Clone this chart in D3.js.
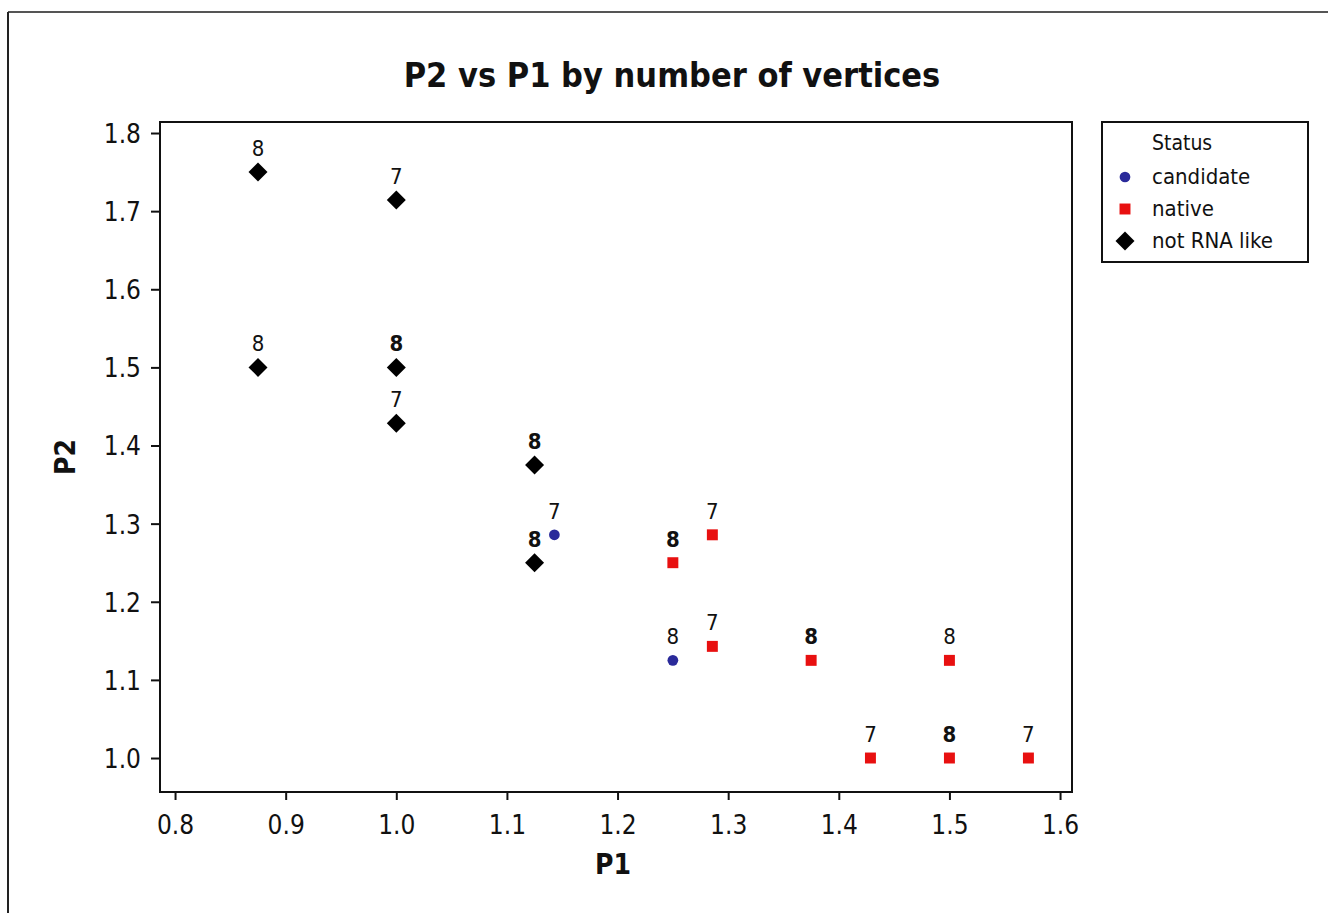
<!DOCTYPE html>
<html>
<head>
<meta charset="utf-8">
<script src="https://cdn.jsdelivr.net/npm/d3@7"></script>
<style>
  html, body { margin: 0; padding: 0; background: #fff; }
  svg { display: block; }
  text { font-family: "DejaVu Sans Condensed", "DejaVu Sans", sans-serif; fill: #111; }
</style>
</head>
<body>
<svg id="chart" width="1328" height="913"></svg>
<script>
// ---- data ----
const statuses = ["candidate", "native", "not RNA like"];
const p1Values = [0.875, 1.0, 0.875, 1.0, 1.0, 1.125, 1.125, 1.1429, 1.25, 1.25, 1.2857, 1.2857, 1.375, 1.5, 1.4286, 1.5, 1.5714];
const p2Values = [1.75, 1.7143, 1.5, 1.5, 1.4286, 1.375, 1.25, 1.2857, 1.125, 1.25, 1.2857, 1.1429, 1.125, 1.125, 1.0, 1.0, 1.0];
const pointStatus = ["not RNA like", "not RNA like", "not RNA like", "not RNA like", "not RNA like", "not RNA like", "not RNA like",
  "candidate", "candidate",
  "native", "native", "native", "native", "native", "native", "native", "native"];
const vertices = [8, 7, 8, 8, 7, 8, 8, 7, 8, 8, 7, 7, 8, 8, 7, 8, 7];
const multiplicity = [1, 1, 1, 2, 1, 2, 2, 1, 1, 2, 1, 1, 2, 1, 1, 2, 1];
const xTicks = [0.8, 0.9, 1.0, 1.1, 1.2, 1.3, 1.4, 1.5, 1.6];
const yTicks = [1.0, 1.1, 1.2, 1.3, 1.4, 1.5, 1.6, 1.7, 1.8];
const titleText = "P2 vs P1 by number of vertices";
const xLabel = "P1", yLabel = "P2", legendTitle = "Status";

// ---- layout ----
const svg = d3.select("#chart");
const plot = { left: 160, right: 1072, top: 122, bottom: 792 };

const x = d3.scaleLinear().domain([0.7864, 1.6108]).range([plot.left, plot.right]);
const y = d3.scaleLinear().domain([0.9565, 1.8141]).range([plot.bottom, plot.top]);

const color = d3.scaleOrdinal().domain(statuses).range(["#2a2a9a", "#e81010", "#000000"]);
const shape = d3.scaleOrdinal().domain(statuses).range([
  d3.symbol().type(d3.symbolCircle).size(90)(),
  d3.symbol().type(d3.symbolSquare).size(120)(),
  d3.symbol().type(d3.symbolDiamond2).size(230)()
]);

// outer frame
svg.append("line").attr("x1", 8).attr("y1", 12).attr("x2", 1328).attr("y2", 12).attr("stroke", "#555").attr("stroke-width", 2);
svg.append("line").attr("x1", 8).attr("y1", 12).attr("x2", 8).attr("y2", 913).attr("stroke", "#222").attr("stroke-width", 2);

// title
svg.append("text").attr("x", 672).attr("y", 87).attr("text-anchor", "middle")
  .style("font-size", "34px").style("font-weight", "bold").text(titleText);

// axes
const xAxis = d3.axisBottom(x).tickValues(xTicks).tickFormat(d3.format(".1f")).tickSize(8).tickSizeOuter(0);
const yAxis = d3.axisLeft(y).tickValues(yTicks).tickFormat(d3.format(".1f")).tickSize(9).tickSizeOuter(0);

const gx = svg.append("g").attr("transform", `translate(0,${plot.bottom})`).call(xAxis);
gx.select(".domain").remove();
gx.selectAll("line").attr("stroke", "#111").attr("stroke-width", 2);
gx.selectAll("text").attr("dy", null).attr("y", 42).style("font-size", "26px").attr("fill", "#222").style("font-family", "DejaVu Sans Condensed, DejaVu Sans, sans-serif");

const gy = svg.append("g").attr("transform", `translate(${plot.left},0)`).call(yAxis);
gy.select(".domain").remove();
gy.selectAll("line").attr("stroke", "#111").attr("stroke-width", 2);
gy.selectAll("text").attr("x", -19).attr("dy", "0.36em").style("font-size", "26px").attr("fill", "#222").style("font-family", "DejaVu Sans Condensed, DejaVu Sans, sans-serif");

// plot frame
svg.append("rect").attr("x", plot.left).attr("y", plot.top)
  .attr("width", plot.right - plot.left).attr("height", plot.bottom - plot.top)
  .attr("fill", "none").attr("stroke", "#111").attr("stroke-width", 2);

// axis titles
svg.append("text").attr("x", 613).attr("y", 874).attr("text-anchor", "middle")
  .style("font-size", "28px").style("font-weight", "bold").text(xLabel);
svg.append("text").attr("transform", "translate(75,457) rotate(-90)").attr("text-anchor", "middle")
  .style("font-size", "28px").style("font-weight", "bold").text(yLabel);

// points
const pts = p1Values.map((v, i) => ({ p1: v, p2: p2Values[i], status: pointStatus[i], n: vertices[i], m: multiplicity[i] }));
const gp = svg.append("g");
gp.selectAll("path").data(pts).join("path")
  .attr("transform", d => `translate(${x(d.p1)},${y(d.p2)})`)
  .attr("d", d => shape(d.status))
  .attr("fill", d => color(d.status));

gp.selectAll("text.lab").data(pts).join("text").attr("class", "lab")
  .attr("x", d => x(d.p1)).attr("y", d => y(d.p2) - 16)
  .attr("text-anchor", "middle")
  .style("font-size", "22px")
  .style("font-weight", d => d.m > 1 ? "bold" : "normal")
  .attr("fill", d => d.m > 1 ? "#111" : "#333")
  .text(d => d.n);

// legend
const lg = svg.append("g");
lg.append("rect").attr("x", 1102).attr("y", 122).attr("width", 206).attr("height", 140)
  .attr("fill", "#fff").attr("stroke", "#111").attr("stroke-width", 2);
lg.append("text").attr("x", 1152).attr("y", 150).style("font-size", "21px").text(legendTitle);
statuses.forEach((s, i) => {
  const cy = 177 + i * 32;
  lg.append("path").attr("transform", `translate(1125,${cy})`).attr("d", shape(s)).attr("fill", color(s));
  lg.append("text").attr("x", 1152).attr("y", cy + 7).style("font-size", "22px").text(s);
});
</script>
</body>
</html>
